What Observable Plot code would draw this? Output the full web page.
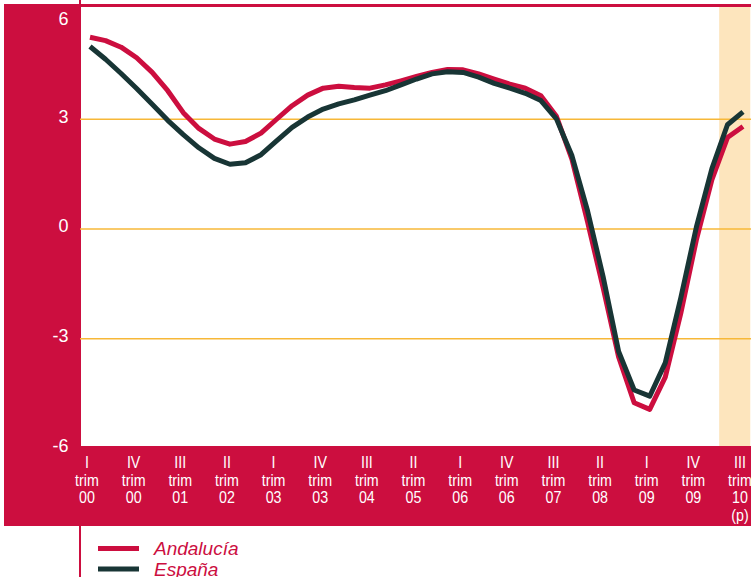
<!DOCTYPE html>
<html>
<head>
<meta charset="utf-8">
<script src="https://cdn.jsdelivr.net/npm/d3@7"></script>
<script src="https://cdn.jsdelivr.net/npm/@observablehq/plot@0.6"></script>
<style>
  body { margin: 0; background: #fff; }
</style>
</head>
<body>
<div id="chart"></div>
<script>
// Quarterly GDP growth, 2000 Q1 – 2010 Q3 (p = provisional)
const quarters = [
  "I 00","II 00","III 00","IV 00","I 01","II 01","III 01","IV 01",
  "I 02","II 02","III 02","IV 02","I 03","II 03","III 03","IV 03",
  "I 04","II 04","III 04","IV 04","I 05","II 05","III 05","IV 05",
  "I 06","II 06","III 06","IV 06","I 07","II 07","III 07","IV 07",
  "I 08","II 08","III 08","IV 08","I 09","II 09","III 09","IV 09",
  "I 10","II 10","III 10"
];
const andalucia = [
  5.24, 5.15, 4.97, 4.68, 4.28, 3.78, 3.18, 2.75, 2.46, 2.32, 2.39, 2.62,
  3.00, 3.37, 3.66, 3.85, 3.90, 3.87, 3.85, 3.94, 4.05, 4.17, 4.28, 4.36,
  4.35, 4.24, 4.10, 3.96, 3.85, 3.64, 3.08, 1.90, 0.20, -1.60, -3.50, -4.75,
  -4.93, -4.05, -2.30, -0.30, 1.35, 2.50, 2.80
];
const espana = [
  4.99, 4.64, 4.25, 3.84, 3.41, 2.97, 2.58, 2.22, 1.93, 1.77, 1.81, 2.03,
  2.41, 2.78, 3.06, 3.28, 3.42, 3.53, 3.66, 3.78, 3.94, 4.10, 4.24, 4.30,
  4.28, 4.15, 3.98, 3.85, 3.71, 3.51, 3.01, 2.00, 0.50, -1.30, -3.35, -4.40,
  -4.57, -3.66, -1.88, 0.05, 1.65, 2.85, 3.20
];
const gridValues = [3, 0, -3];
const yTicksLower = [3, 0, -3, -6];
const yTickTop = [6];
const xTickIndex = [0, 3, 6, 9, 12, 15, 18, 21, 24, 27, 30, 33, 36, 39, 42];
const xTickLabels = [
  "I\ntrim\n00", "IV\ntrim\n00", "III\ntrim\n01", "II\ntrim\n02", "I\ntrim\n03",
  "IV\ntrim\n03", "III\ntrim\n04", "II\ntrim\n05", "I\ntrim\n06", "IV\ntrim\n06",
  "III\ntrim\n07", "II\ntrim\n08", "I\ntrim\n09", "IV\ntrim\n09", "III\ntrim\n10\n(p)"
];
const forecastQuarters = ["II 10", "III 10"];
const seriesNames = ["Andalucía", "España"];

const CRIMSON = "#CC0E3F";
const DARK = "#183535";
const GRID = "#F7B838";
const PEACH = "#FDE5BD";
const SANS = "'Liberation Sans', Arial, Helvetica, sans-serif";

const rows = quarters.map((q, i) => ({ i, q, andalucia: andalucia[i], espana: espana[i] }));
const fIdx = forecastQuarters.map(q => quarters.indexOf(q));
const forecast = [{ x1: d3.min(fIdx) - 0.5, x2: d3.max(fIdx) + 0.5 }];

const W = 751, H = 577;
const plainNumber = d => String(d);

const svg = Plot.plot({
  width: W,
  height: H,
  marginLeft: 80,
  marginRight: 0,
  marginTop: 7,
  marginBottom: 131,
  style: { background: "transparent", fontFamily: SANS, overflow: "visible" },
  x: { domain: [0, quarters.length - 1], range: [89.5, 742.5], axis: null },
  y: { domain: [-6, 6], range: [448, 9], axis: null },
  marks: [
    Plot.rect(forecast, { x1: "x1", x2: "x2", fill: PEACH }),
    Plot.ruleY(gridValues, { stroke: GRID, strokeWidth: 1.4 }),
    Plot.line(rows, { x: "i", y: "andalucia", stroke: CRIMSON, strokeWidth: 5, strokeLinecap: "butt" }),
    Plot.line(rows, { x: "i", y: "espana", stroke: DARK, strokeWidth: 5, strokeLinecap: "butt" }),
    Plot.axisY(yTicksLower, { anchor: "left", tickSize: 0, tickPadding: 12, color: "white", fontSize: 18, dy: -2.5, tickFormat: plainNumber }),
    Plot.axisY(yTickTop, { anchor: "left", tickSize: 0, tickPadding: 12, color: "white", fontSize: 18, dy: 10, tickFormat: plainNumber }),
    Plot.axisX(xTickIndex, {
      anchor: "bottom", tickSize: 0, tickPadding: 9, color: "white", fontSize: 17, lineHeight: 1.04,
      fontFamily: SANS,
      tickFormat: d => xTickLabels[xTickIndex.indexOf(d)], dx: -3
    })
  ]
});

const s = d3.select(svg);

// narrow the quarter labels horizontally (condensed look)
s.selectAll('g[aria-label="x-axis tick label"] text').each(function () {
  const t = d3.select(this);
  t.attr("transform", (t.attr("transform") || "") + " scale(0.84,1)");
});

// Crimson frame panels behind the chart
const bg = s.insert("g", ":first-child");
bg.append("rect").attr("x", 79).attr("y", 0).attr("width", 2).attr("height", H).attr("fill", CRIMSON);
bg.append("rect").attr("x", 80).attr("y", 4).attr("width", W - 80).attr("height", 3).attr("fill", CRIMSON);
bg.append("rect").attr("x", 4).attr("y", 4).attr("width", 75).attr("height", 442).attr("fill", CRIMSON);
bg.append("rect").attr("x", 4).attr("y", 446).attr("width", W - 4).attr("height", 80).attr("fill", CRIMSON);
s.insert("rect", ":first-child").attr("x", 0).attr("y", 0).attr("width", W).attr("height", H).attr("fill", "white");

// Legend
const legend = s.append("g");
const legendColors = [CRIMSON, DARK];
seriesNames.forEach((name, k) => {
  const cy = 548.5 + k * 20.5;
  legend.append("rect").attr("x", 98).attr("y", cy - 2.5).attr("width", 41).attr("height", 5).attr("fill", legendColors[k]);
  legend.append("text").attr("x", 154).attr("y", cy + 6.5)
    .attr("text-anchor", "start")
    .attr("fill", CRIMSON).attr("font-style", "italic").attr("font-size", 19)
    .attr("font-family", SANS).text(name);
});

document.getElementById("chart").appendChild(svg);
</script>
</body>
</html>
